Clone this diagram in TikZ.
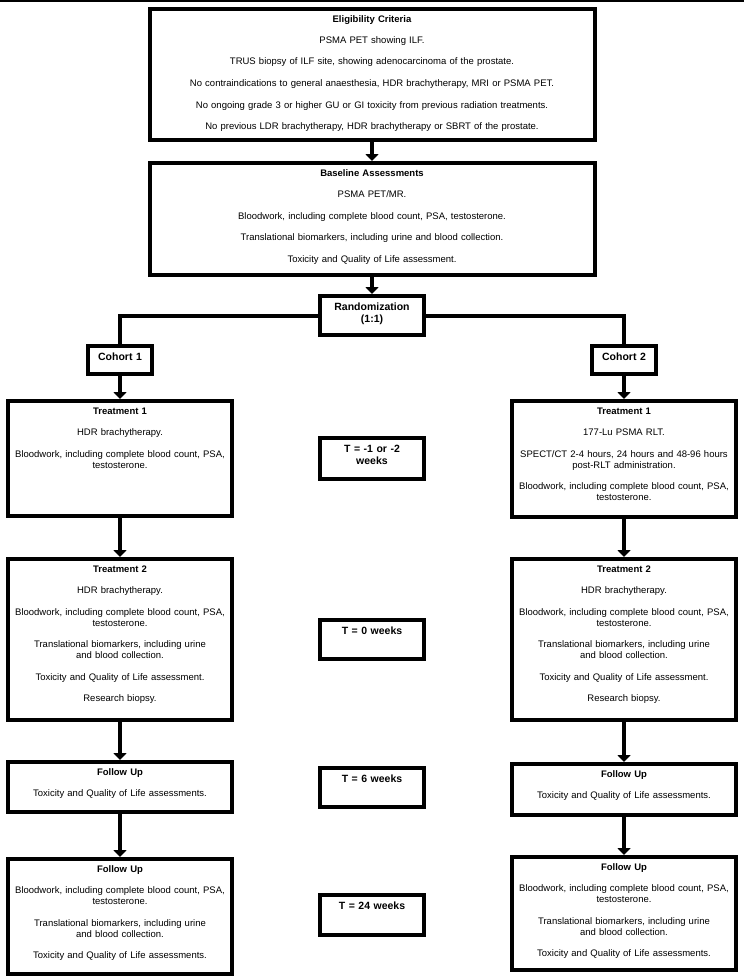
\documentclass[tikz,border=0pt]{standalone}
\usepackage{fontspec}
\setmainfont{Liberation Sans}
\usetikzlibrary{arrows.meta}
\tikzstyle{box}=[draw=black,line width=4pt,anchor=north,align=center,inner xsep=4pt,inner ysep=5pt,text height=8pt,font=\fontsize{9.5}{11}\selectfont]
\tikzstyle{tag}=[box,text height=9pt,font=\bfseries\fontsize{10.5}{12}\selectfont]
\tikzstyle{flow}=[line width=4pt,-{Triangle[width=13pt,length=7pt]}]
\tikzstyle{split}=[line width=4pt]

\begin{document}
\begin{tikzpicture}[x=1pt,y=-1pt]
  \useasboundingbox (0,0) rectangle (744,977);
  \draw [line width=1.5pt] (0,0.75) -- (744,0.75);

  % trunk
  \node (elig) at (372,7) [box,text width=437pt,text depth=113pt] {\textbf{Eligibility Criteria}\\[10.5pt]
    PSMA PET showing ILF.\\[10.5pt]
    TRUS biopsy of ILF site, showing adenocarcinoma of the prostate.\\[10.5pt]
    No contraindications to general anaesthesia, HDR brachytherapy, MRI or PSMA PET.\\[10.5pt]
    No ongoing grade 3 or higher GU or GI toxicity from previous radiation treatments.\\[10.5pt]
    No previous LDR brachytherapy, HDR brachytherapy or SBRT of the prostate.};
  \node (base) at (372,161) [box,text width=437pt,text depth=94pt] {\textbf{Baseline Assessments}\\[10.5pt]
    PSMA PET/MR.\\[10.5pt]
    Bloodwork, including complete blood count, PSA, testosterone.\\[10.5pt]
    Translational biomarkers, including urine and blood collection.\\[10.5pt]
    Toxicity and Quality of Life assessment.};
  \node (rand) at (372,294) [tag,text width=96pt,text depth=20pt] {Randomization\\(1:1)};
  \node (c1) at (120,344) [tag,text width=56pt,text depth=9pt] {Cohort 1};
  \node (c2) at (624,344) [tag,text width=56pt,text depth=9pt] {Cohort 2};

  % timepoints
  \node (tm1) at (372,436) [tag,text width=96pt,text depth=22pt] {T = -1 or -2\\weeks};
  \node (tm0) at (372,618) [tag,text width=96pt,text depth=20pt] {T = 0 weeks};
  \node (tm6) at (372,766) [tag,text width=96pt,text depth=20pt] {T = 6 weeks};
  \node (tm24) at (372,893) [tag,text width=96pt,text depth=21pt] {T = 24 weeks};

  % cohort 1
  \node (t1a) at (120,399) [box,text width=216pt,text depth=97pt] {\textbf{Treatment 1}\\[10.5pt]
    HDR brachytherapy.\\[10.5pt]
    Bloodwork, including complete blood count, PSA,\\testosterone.};
  \node (t2a) at (120,557) [box,text width=216pt,text depth=143pt] {\textbf{Treatment 2}\\[10.5pt]
    HDR brachytherapy.\\[10.5pt]
    Bloodwork, including complete blood count, PSA,\\testosterone.\\[10.5pt]
    Translational biomarkers, including urine\\and blood collection.\\[10.5pt]
    Toxicity and Quality of Life assessment.\\[10.5pt]
    Research biopsy.};
  \node (fu1a) at (120,760) [box,text width=216pt,text depth=32pt] {\textbf{Follow Up}\\[10.5pt]
    Toxicity and Quality of Life assessments.};
  \node (fu2a) at (120,857) [box,text width=216pt,text depth=97pt] {\textbf{Follow Up}\\[10.5pt]
    Bloodwork, including complete blood count, PSA,\\testosterone.\\[10.5pt]
    Translational biomarkers, including urine\\and blood collection.\\[10.5pt]
    Toxicity and Quality of Life assessments.};

  % cohort 2
  \node (t1b) at (624,399) [box,text width=216pt,text depth=98pt] {\textbf{Treatment 1}\\[10.5pt]
    177-Lu PSMA RLT.\\[10.5pt]
    SPECT/CT 2-4 hours, 24 hours and 48-96 hours\\post-RLT administration.\\[10.5pt]
    Bloodwork, including complete blood count, PSA,\\testosterone.};
  \node (t2b) at (624,557) [box,text width=216pt,text depth=143pt] {\textbf{Treatment 2}\\[10.5pt]
    HDR brachytherapy.\\[10.5pt]
    Bloodwork, including complete blood count, PSA,\\testosterone.\\[10.5pt]
    Translational biomarkers, including urine\\and blood collection.\\[10.5pt]
    Toxicity and Quality of Life assessment.\\[10.5pt]
    Research biopsy.};
  \node (fu1b) at (624,762) [box,text width=216pt,text depth=33pt] {\textbf{Follow Up}\\[10.5pt]
    Toxicity and Quality of Life assessments.};
  \node (fu2b) at (624,855) [box,text width=216pt,text depth=95pt] {\textbf{Follow Up}\\[10.5pt]
    Bloodwork, including complete blood count, PSA,\\testosterone.\\[10.5pt]
    Translational biomarkers, including urine\\and blood collection.\\[10.5pt]
    Toxicity and Quality of Life assessments.};

  \draw [flow] (elig) -- (base);
  \draw [flow] (base) -- (rand);
  \draw [split] (rand) -| (c1);
  \draw [split] (rand) -| (c2);
  \draw [flow] (c1) -- (t1a);
  \draw [flow] (t1a) -- (t2a);
  \draw [flow] (t2a) -- (fu1a);
  \draw [flow] (fu1a) -- (fu2a);
  \draw [flow] (c2) -- (t1b);
  \draw [flow] (t1b) -- (t2b);
  \draw [flow] (t2b) -- (fu1b);
  \draw [flow] (fu1b) -- (fu2b);
\end{tikzpicture}
\end{document}
